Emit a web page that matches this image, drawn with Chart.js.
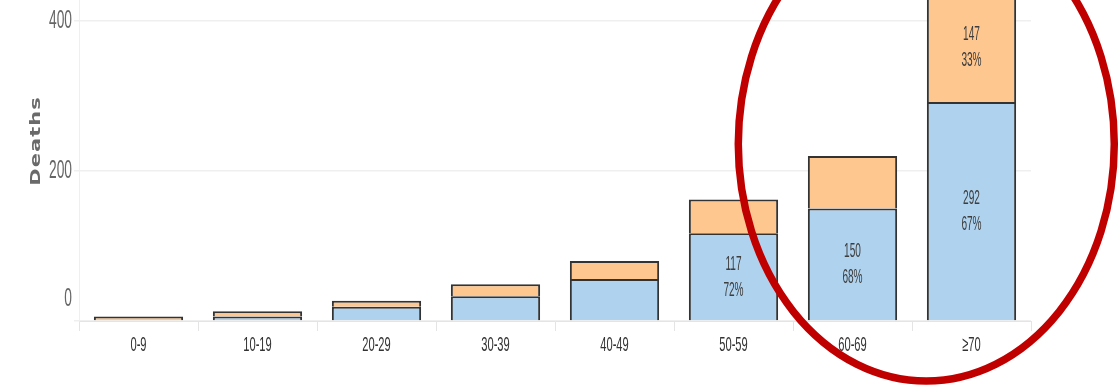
<!DOCTYPE html>
<html>
<head>
<meta charset="utf-8">
<script src="https://cdn.jsdelivr.net/npm/chart.js@4.4.1/dist/chart.umd.min.js"></script>
<style>
  html, body { margin: 0; padding: 0; background: #fff; overflow: hidden; width: 1120px; height: 388px; }
  #wrap { position: absolute; left: 0; top: -100px; width: 1120px; height: 488px; }
</style>
</head>
<body>
<div id="wrap"><canvas id="c"></canvas></div>
<script>
// Deaths by age group, split into two stacked groups
const ageGroups   = ['0-9', '10-19', '20-29', '30-39', '40-49', '50-59', '60-69', '≥70'];
const lowerDeaths = [1, 6, 19, 33, 56, 117, 150, 292];
const upperDeaths = [5, 7, 8, 16, 24, 45, 70, 147];
const yTicks      = [0, 200, 400];
const axisTitle   = 'Deaths';
const labelMin    = 100;   // segments at least this large carry a count / share label

const FAMILY = "'Liberation Sans', Arial, sans-serif";

// Narrow lettering: every fillText on this canvas is squeezed horizontally around its anchor
const canvas = document.getElementById('c');
const ctx2d = canvas.getContext('2d');
let squeeze = 1;
const rawFillText = ctx2d.fillText;
ctx2d.fillText = function (text, x, y, maxWidth) {
  if (squeeze === 1) {
    return maxWidth === undefined ? rawFillText.call(this, text, x, y)
                                  : rawFillText.call(this, text, x, y, maxWidth);
  }
  this.save();
  this.translate(x, y);
  this.scale(squeeze, 1);
  rawFillText.call(this, text, 0, 0);
  this.restore();
};

const decorations = {
  id: 'decorations',
  beforeDraw() { squeeze = 0.53; },
  afterDatasetsDraw(chart) {
    const { ctx } = chart;
    const totals = ageGroups.map((_, i) => lowerDeaths[i] + upperDeaths[i]);
    ctx.save();
    squeeze = 0.48;
    ctx.font = '21px ' + FAMILY;
    ctx.fillStyle = '#3d3d3d';
    ctx.textAlign = 'center';
    ctx.textBaseline = 'middle';
    chart.data.datasets.forEach((ds, di) => {
      chart.getDatasetMeta(di).data.forEach((bar, i) => {
        const v = ds.data[i];
        if (v < labelMin) return;
        const share = Math.round(v / totals[i] * 100) + '%';
        const cy = (bar.y + bar.base) / 2;
        ctx.fillText(String(v), bar.x, cy - 13);
        ctx.fillText(share, bar.x, cy + 13);
      });
    });
    squeeze = 0.53;
    ctx.restore();
  },
  afterDraw(chart) {
    squeeze = 1;
    const { ctx, chartArea: a } = chart;

    // rotated axis title
    ctx.save();
    ctx.translate(a.left - 43, (a.top + a.bottom) / 2);
    ctx.rotate(-Math.PI / 2);
    ctx.scale(1, 0.7);
    ctx.font = "bold 21px 'DejaVu Sans', sans-serif";
    ctx.letterSpacing = '1px';
    ctx.fillStyle = '#6a6a6a';
    ctx.textAlign = 'center';
    ctx.textBaseline = 'middle';
    ctx.fillText(axisTitle, 0, 0);
    ctx.restore();

    // red ring around the oldest age groups
    const xs = chart.scales.x, ys = chart.scales.y;
    ctx.save();
    ctx.beginPath();
    ctx.ellipse(xs.getPixelForValue(6.62), ys.getPixelForValue(236), 188, 237, 0, 0, Math.PI * 2);
    ctx.strokeStyle = '#c00000';
    ctx.lineWidth = 7.5;
    ctx.stroke();
    ctx.restore();
  }
};

new Chart(canvas, {
  type: 'bar',
  data: {
    labels: ageGroups,
    datasets: [
      { data: lowerDeaths, backgroundColor: '#afd2ee', borderColor: '#333', borderWidth: 2 },
      { data: upperDeaths, backgroundColor: '#fec78f', borderColor: '#333', borderWidth: 2 }
    ]
  },
  options: {
    responsive: true,
    maintainAspectRatio: false,
    animation: false,
    events: [],
    barPercentage: 0.75,
    categoryPercentage: 1,
    layout: { padding: { top: 61, right: 89, bottom: 0, left: 0 } },
    plugins: { legend: { display: false }, tooltip: { enabled: false }, title: { display: false } },
    scales: {
      x: {
        stacked: true,
        grid: { offset: true, drawOnChartArea: false, color: '#e4e4e4', tickLength: 10, lineWidth: 1 },
        border: { display: true, color: '#e4e4e4' },
        ticks: { color: '#333', font: { family: FAMILY, size: 21 }, padding: 2, maxRotation: 0, autoSkip: false },
        afterFit(s) { s.height = 67; }
      },
      y: {
        stacked: true,
        min: 0,
        max: 480,
        afterBuildTicks(s) { s.ticks = yTicks.map(v => ({ value: v })); },
        grid: { color: '#efefef', lineWidth: 1.5, tickLength: 5 },
        border: { color: '#efefef' },
        ticks: {
          color: '#666',
          padding: 2,
          callback: v => (v === 0 ? ['0', ''] : String(v)),
          font: c => ({ family: FAMILY, size: 26, lineHeight: c.tick && c.tick.value === 0 ? '44px' : 1.2 })
        },
        afterFit(s) { s.width = 79; }
      }
    }
  },
  plugins: [decorations]
});
</script>
</body>
</html>
